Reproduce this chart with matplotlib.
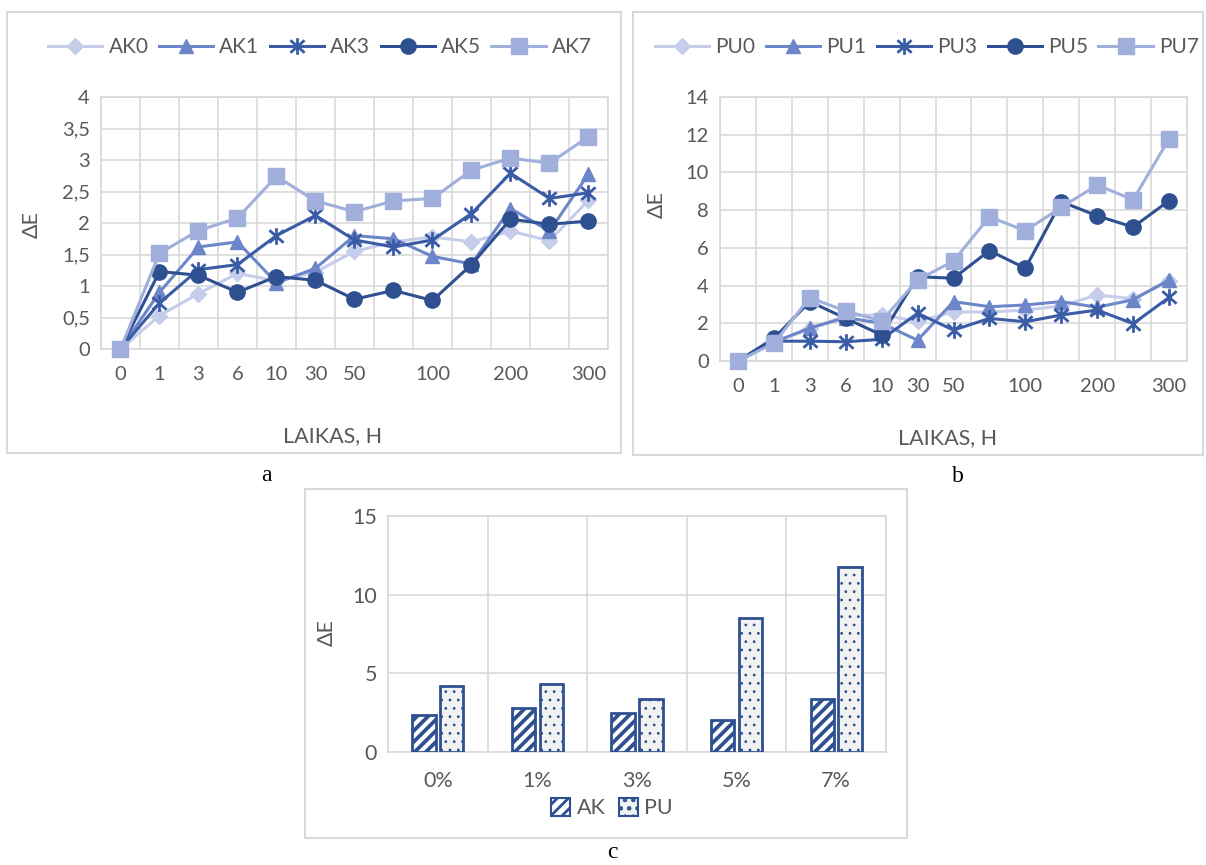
import matplotlib.pyplot as plt
import numpy as np
from matplotlib.path import Path
from matplotlib.patches import Rectangle, Patch

plt.rcParams['font.family'] = ['Lato', 'DejaVu Sans']
plt.rcParams['hatch.linewidth'] = 2.0

W, H = 1206, 865

# Laiko taškai (tik dalis pažymėti ašyje)
time_labels = ['0', '1', '3', '6', '10', '30', '50', '', '100', '', '200', '', '300']

ak_names = ['AK0', 'AK1', 'AK3', 'AK5', 'AK7']
ak0 = [0, 0.53, 0.88, 1.2, 1.08, 1.22, 1.55, 1.70, 1.78, 1.70, 1.87, 1.72, 2.36]
ak1 = [0, 0.9, 1.62, 1.7, 1.05, 1.28, 1.8, 1.75, 1.47, 1.35, 2.23, 1.87, 2.78]
ak3 = [0, 0.73, 1.26, 1.34, 1.8, 2.12, 1.73, 1.62, 1.73, 2.15, 2.79, 2.39, 2.48]
ak5 = [0, 1.23, 1.17, 0.9, 1.15, 1.09, 0.79, 0.93, 0.77, 1.34, 2.06, 1.98, 2.03]
ak7 = [0, 1.52, 1.88, 2.08, 2.74, 2.35, 2.18, 2.35, 2.39, 2.84, 3.03, 2.95, 3.37]

pu_names = ['PU0', 'PU1', 'PU3', 'PU5', 'PU7']
pu0 = [0, 1.0, 1.7, 2.4, 2.45, 2.1, 2.6, 2.6, 2.7, 2.92, 3.5, 3.3, 4.22]
pu1 = [0, 1.0, 1.75, 2.3, 2.0, 1.1, 3.15, 2.88, 2.97, 3.15, 2.85, 3.25, 4.3]
pu3 = [0, 1.05, 1.05, 1.02, 1.15, 2.53, 1.64, 2.26, 2.08, 2.44, 2.7, 1.98, 3.37]
pu5 = [0, 1.2, 3.15, 2.26, 1.38, 4.47, 4.39, 5.85, 4.92, 8.45, 7.7, 7.1, 8.5]
pu7 = [0, 0.94, 3.36, 2.65, 2.12, 4.3, 5.3, 7.65, 6.9, 8.15, 9.33, 8.55, 11.77]

ak_yticks = [0, 0.5, 1, 1.5, 2, 2.5, 3, 3.5, 4]
ak_yticklabels = ['0', '0,5', '1', '1,5', '2', '2,5', '3', '3,5', '4']
pu_yticks = [0, 2, 4, 6, 8, 10, 12, 14]

conc_labels = ['0%', '1%', '3%', '5%', '7%']
bar_yticks = [0, 5, 10, 15]

grid_c = '#d9d9d9'
text_c = '#595959'
dark = '#2e5090'
colors = ['#c5cdea', '#6d86c9', '#3a5ca6', '#2e5090', '#a0afdb']

# žvaigždutės žymeklis: vertikali linija + X
asterisk = Path([(0, -1), (0, 1), (-0.85, -0.75), (0.85, 0.75), (-0.85, 0.75), (0.85, -0.75)],
                [Path.MOVETO, Path.LINETO] * 3)
markers = ['D', '^', asterisk, 'o', 's']
msizes = [8, 10, 12, 11, 11]


def px_box(x0, y0, x1, y1):
    return [x0 / W, 1 - y1 / H, (x1 - x0) / W, (y1 - y0) / H]


def frame(x0, y0, x1, y1):
    fig.add_artist(Rectangle((x0 / W, 1 - y1 / H), (x1 - x0) / W, (y1 - y0) / H,
                             transform=fig.transFigure, fill=False,
                             edgecolor=grid_c, lw=1.5))


def style_axes(ax, ncat, size):
    ax.set_xlim(-0.5, ncat - 0.5)
    ax.set_xticks(np.arange(-0.5, ncat), minor=True)
    ax.grid(True, which='minor', axis='x', color=grid_c, lw=1.2)
    ax.grid(True, which='major', axis='y', color=grid_c, lw=1.2)
    ax.tick_params(which='both', length=0, labelsize=size, labelcolor=text_c)
    ax.tick_params(axis='y', pad=8)
    for s in ax.spines.values():
        s.set_color(grid_c)
        s.set_linewidth(1.2)
    ax.set_axisbelow(True)


def line_panel(ax, series, names, yticks, yticklabels, legend_x):
    x = np.arange(len(time_labels))
    for vals, name, c, m, ms in zip(series, names, colors, markers, msizes):
        star = m is asterisk
        ax.plot(x, vals, color=c, lw=2.2, marker=m, ms=ms,
                mfc='none' if star else c, mec=c, mew=2 if star else 1,
                label=name, clip_on=False, zorder=3)
    style_axes(ax, len(time_labels), 14.5)
    ax.set_ylim(yticks[0], yticks[-1])
    ax.set_yticks(yticks, yticklabels)
    ax.set_xticks(x, time_labels)
    ax.tick_params(axis='x', pad=12)
    ax.legend(loc='center', bbox_to_anchor=(legend_x / W, 1 - 47 / H),
              bbox_transform=fig.transFigure, ncol=5, frameon=False,
              fontsize=15, handlelength=2.6, handletextpad=0.3,
              columnspacing=0.5, labelcolor=text_c)


def set_hatch_lw(bars, lw):
    for b in bars:
        if hasattr(b, 'set_hatch_linewidth'):
            b.set_hatch_linewidth(lw)


fig = plt.figure(figsize=(W / 100, H / 100), dpi=100)

# a: AK
ax_a = fig.add_axes(px_box(101, 97, 608, 349))
line_panel(ax_a, [ak0, ak1, ak3, ak5, ak7], ak_names, ak_yticks, ak_yticklabels, 320)
fig.text(333 / W, 1 - 436 / H, 'LAIKAS, H', ha='center', va='center', fontsize=15.5, color=text_c)
fig.text(32 / W, 1 - 225 / H, 'ΔE', ha='center', va='center', rotation=90, fontsize=15.5, color=text_c)
frame(7, 12, 621, 453)

# b: PU
ax_b = fig.add_axes(px_box(720, 97, 1187, 361))
line_panel(ax_b, [pu0, pu1, pu3, pu5, pu7], pu_names, pu_yticks,
           [str(t) for t in pu_yticks], 927)
fig.text(948 / W, 1 - 438 / H, 'LAIKAS, H', ha='center', va='center', fontsize=15.5, color=text_c)
fig.text(657 / W, 1 - 205 / H, 'ΔE', ha='center', va='center', rotation=90, fontsize=15.5, color=text_c)
frame(633, 12, 1203, 455)

# c: galutinės vertės (300 h)
ak_final = [s[-1] for s in (ak0, ak1, ak3, ak5, ak7)]
pu_final = [s[-1] for s in (pu0, pu1, pu3, pu5, pu7)]

ax_c = fig.add_axes(px_box(388, 516, 886, 752))
xc = np.arange(len(conc_labels))
bw = 0.235
ak_bars = ax_c.bar(xc - 0.14, ak_final, bw, facecolor='white', edgecolor=dark,
                   hatch='///', lw=2, zorder=3)
pu_bars = ax_c.bar(xc + 0.14, pu_final, bw, facecolor='#f2f2f2', edgecolor=dark,
                   hatch='..', lw=2, zorder=3)
set_hatch_lw(ak_bars, 2.7)
set_hatch_lw(pu_bars, 0.8)
style_axes(ax_c, len(conc_labels), 15.5)
ax_c.set_ylim(0, 15)
ax_c.set_yticks(bar_yticks)
ax_c.set_xticks(xc, conc_labels)
ax_c.tick_params(axis='x', pad=14)
handles = [Patch(facecolor='white', edgecolor=dark, hatch='///', lw=1.5),
           Patch(facecolor='#f2f2f2', edgecolor=dark, hatch='..', lw=1.5)]
set_hatch_lw(handles[:1], 2.7)
set_hatch_lw(handles[1:], 0.8)
ax_c.legend(handles, ['AK', 'PU'], loc='center', bbox_to_anchor=(612 / W, 1 - 808 / H),
            bbox_transform=fig.transFigure, ncol=2, frameon=False, fontsize=15.5,
            handlelength=0.9, handleheight=0.9, handletextpad=0.3, columnspacing=0.6,
            labelcolor=text_c)
fig.text(327 / W, 1 - 633 / H, 'ΔE', ha='center', va='center', rotation=90, fontsize=15.5, color=text_c)
frame(305, 489, 907, 838)

# paneliu raidės
for x, y, s in [(266, 476, 'a'), (958, 477, 'b'), (612, 853, 'c')]:
    fig.text(x / W, 1 - y / H, s, ha='center', va='center', fontsize=17,
             family='Liberation Serif')

fig.savefig('out.png', dpi=100)
